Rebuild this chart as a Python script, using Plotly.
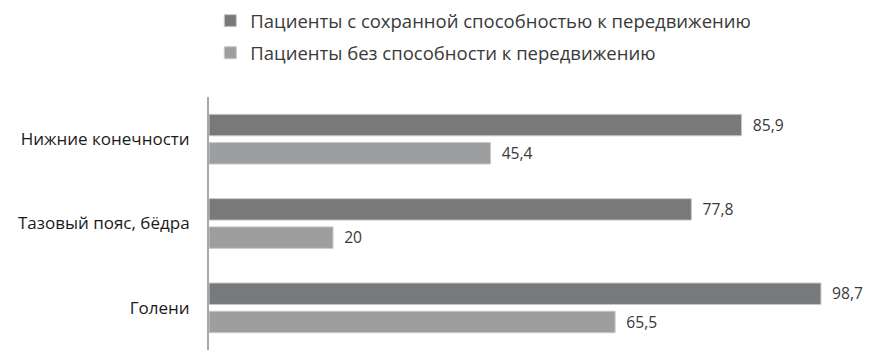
import plotly.graph_objects as go

categories = ["Нижние конечности", "Тазовый пояс, бёдра", "Голени"]
series_names = ["Пациенты с сохранной способностью к передвижению",
                "Пациенты без способности к передвижению"]
mobile = [85.9, 77.8, 98.7]
immobile = [45.4, 20, 65.5]
colors = ["#78797b", "#9d9ea0"]

def fmt(v):
    s = ("%g" % v).replace(".", ",")
    return "\u00a0\u00a0" + s

fig = go.Figure()
for i, (name, vals) in enumerate(zip(series_names, [mobile, immobile])):
    fig.add_trace(go.Bar(
        y=categories, x=vals, orientation="h", name=name,
        marker=dict(color=colors[i], line=dict(color="#c8c8c8", width=1)),
        text=[fmt(v) for v in vals], textposition="outside",
        textfont=dict(size=19, color="#3a3a3a", family="Open Sans"),
        cliponaxis=False, legendgroup="g%d" % i,
    ))

fig.update_layout(
    width=870, height=352,
    margin=dict(l=209, r=10, t=90, b=2),
    paper_bgcolor="white", plot_bgcolor="white",
    barmode="group", bargap=0.33, bargroupgap=0.24,
    font=dict(family="Open Sans", size=16, color="#1a1a1a"),
    showlegend=True,
    legend=dict(x=0.002, y=1.375, xanchor="left", yanchor="top",
                font=dict(size=18.5, color="#3a3a3a", family="Open Sans"),
                tracegroupgap=5, traceorder="grouped",
                bgcolor="rgba(0,0,0,0)"),
    xaxis=dict(range=[0, 105], showgrid=False, zeroline=False,
               showticklabels=False, showline=False, fixedrange=True),
    yaxis=dict(autorange="reversed", showgrid=False, zeroline=False,
               showline=True, linecolor="#a8a8a8", linewidth=2,
               ticks="", ticklabelstandoff=14,
               tickfont=dict(size=17, color="#1a1a1a", family="Open Sans")),
)

fig.write_html("out.html")
